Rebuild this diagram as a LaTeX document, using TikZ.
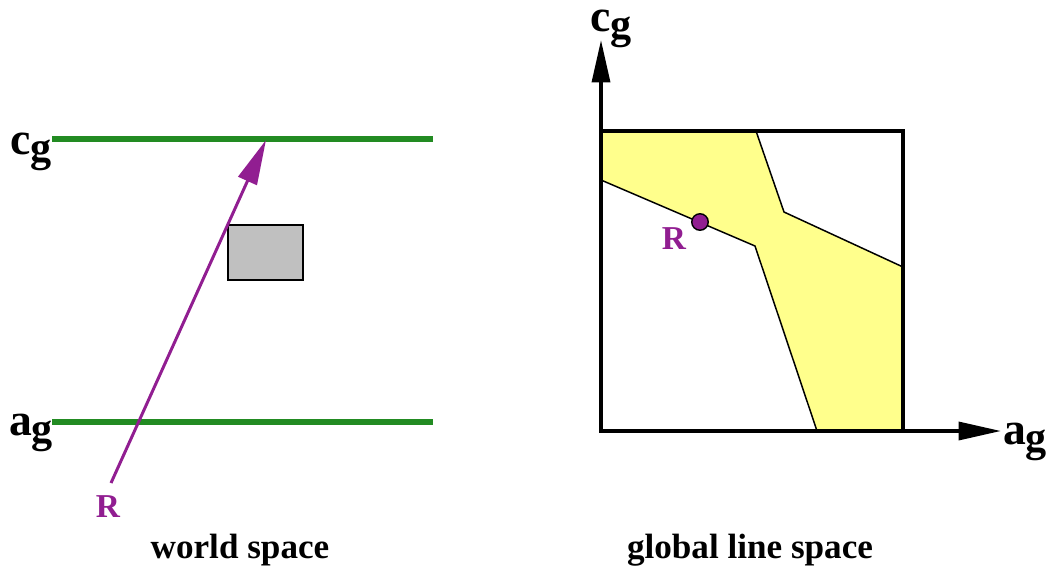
\documentclass[tikz,border=0pt]{standalone}
\usepackage{fontspec}
\setmainfont{Liberation Serif}
\usetikzlibrary{arrows.meta, positioning}

\definecolor{linegreen}{RGB}{34,139,34}
\definecolor{raypurple}{RGB}{145,30,145}
\definecolor{regionyellow}{RGB}{255,255,140}
\definecolor{boxgray}{RGB}{192,192,192}

\newcommand{\glabel}[1]{#1\raisebox{-4pt}{\fontsize{24}{24}\selectfont g}}

\begin{document}
\begin{tikzpicture}[
    x=0.02cm, y=-0.02cm,
    axislabel/.style={font=\fontsize{26}{26}\selectfont\bfseries, inner sep=0pt},
    caption/.style={font=\fontsize{20}{24}\selectfont\bfseries, inner sep=0pt},
    rlabel/.style={font=\fontsize{19}{22}\selectfont\bfseries, text=raypurple, inner sep=0pt},
    groundline/.style={draw=linegreen, line width=3.4pt},
    ray/.style={draw=raypurple, line width=1.7pt, -{Triangle[length=0.9cm, width=0.4cm]}},
    axisline/.style={line width=2pt, -{Triangle[length=0.85cm, width=0.36cm]}},
    region/.style={fill=regionyellow, draw=black, line width=0.85pt, line join=miter},
    obstacle/.style={fill=boxgray, draw=black, line width=1.2pt},
    rdot/.style={circle, fill=raypurple, draw=black, line width=0.8pt, minimum size=0.33cm, inner sep=0pt}
]
\useasboundingbox (0,0) rectangle (1048,569);

% world space
\coordinate (cleft) at (52,139);
\coordinate (cright) at (433,139);
\coordinate (aleft) at (52,422);
\coordinate (aright) at (433,422);
\draw[groundline] (cleft) -- (cright);
\draw[groundline] (aleft) -- (aright);
\node[axislabel] (cg) at (31,152) {\glabel{c}};
\node[axislabel] (ag) at (31,433) {\glabel{a}};

\draw[obstacle] (228,225) rectangle (303,280);

\coordinate (rstart) at (111,483);
\coordinate (rhit) at (266,140);
\draw[ray] (rstart) -- (rhit);
\node[rlabel] (rname) at (108,507) {R};

\node[caption] (world) at (240,550) {world space};

% global line space
\draw[region] (601,131) -- (756,131) -- (784,212) -- (903,267) -- (903,431)
    -- (817,431) -- (755,246) -- (601,180) -- cycle;
\draw[line width=2pt] (601,131) rectangle (903,431);

\coordinate (origin) at (601,431);
\coordinate (ytip) at (601,40);
\coordinate (xtip) at (1001,431);
\draw[axisline] (origin) -- (ytip);
\draw[axisline] (origin) -- (xtip);
\node[axislabel] (cgaxis) at (611,29) {\glabel{c}};
\node[axislabel] (agaxis) at (1025,442) {\glabel{a}};

\node[rdot] (rpoint) at (700,222) {};
\node[rlabel] (rpname) at (674,239) {R};

\node[caption] (global) at (750,550) {global line space};
\end{tikzpicture}
\end{document}
